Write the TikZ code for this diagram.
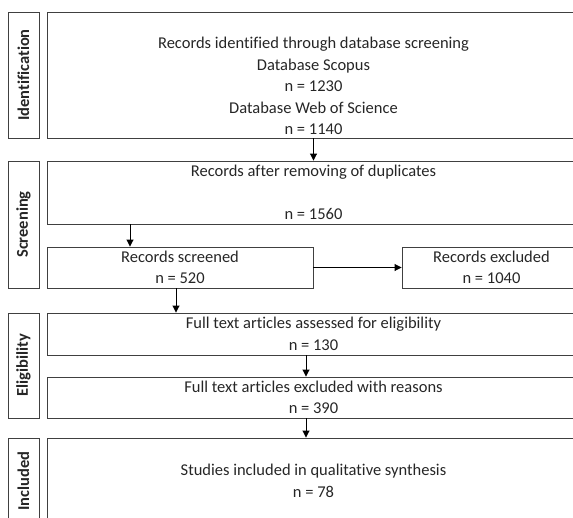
\documentclass[tikz,border=0pt]{standalone}
\usepackage{fontspec}
\setmainfont{Carlito}[Ligatures=NoCommon]
\usetikzlibrary{arrows.meta}
\begin{document}
\begin{tikzpicture}[x=1pt,y=-1pt,
  every node/.style={font=\fontsize{16.5}{21.5}\selectfont, text=black!85},
  box/.style={draw=black!75, line width=0.9pt, rectangle, inner sep=0pt, align=center},
  phase/.style={box, rotate=90, minimum height=31pt, font=\fontsize{16.5}{20}\selectfont\bfseries},
  flow/.style={draw=black, line width=0.9pt, -{Triangle[length=7pt,width=7pt]}}]
\useasboundingbox (0,0) rectangle (573,517);
\clip (0,0) rectangle (573,517);

% phase labels on the left
\node[phase, minimum width=126pt] (lab1) at (23.5,75) {Identification};
\node[phase, minimum width=127pt] (lab2) at (23.5,224.5) {Screening};
\node[phase, minimum width=105pt] (lab3) at (23.5,365.5) {Eligibility};
\node[phase, minimum width=86pt]  (lab4) at (23.5,481) {Included};

% flow boxes
\node[box, minimum width=533pt, minimum height=126pt] (idbox) at (313.5,75) {};
\node[align=center, inner sep=0pt] (idtext) at (313.5,86)
  {Records identified through database screening\\Database Scopus\\n = 1230\\Database Web of Science\\n = 1140};
\node[box, minimum width=533pt, minimum height=63pt] (dup) at (313.5,192.5)
  {Records after removing of duplicates\\[21.5pt]n = 1560};
\node[box, minimum width=266pt, minimum height=41pt] (scr) at (180,267.5)
  {Records screened\\n = 520};
\node[box, minimum width=179pt, minimum height=41pt] (exc) at (491.5,267.5)
  {Records excluded\\n = 1040};
\node[box, minimum width=533pt, minimum height=42pt] (ass) at (313.5,334)
  {Full text articles assessed for eligibility\\n = 130};
\node[box, minimum width=533pt, minimum height=41pt] (fte) at (313.5,397.5)
  {Full text articles excluded with reasons\\n = 390};
\node[box, minimum width=533pt, minimum height=86pt] (inc) at (313.5,481)
  {Studies included in qualitative synthesis\\n = 78};

% connectors
\coordinate (c2) at (130,0);
\coordinate (c3) at (176,0);
\coordinate (c5) at (306,0);
\draw[flow] (idbox.south) -- (dup.north);
\draw[flow] (dup.south -| c2) -- (scr.north -| c2);
\draw[flow] (scr.east) -- (exc.west);
\draw[flow] (scr.south -| c3) -- (ass.north -| c3);
\draw[flow] (ass.south -| c5) -- (fte.north -| c5);
\draw[flow] (fte.south -| c5) -- (inc.north -| c5);
\end{tikzpicture}
\end{document}
